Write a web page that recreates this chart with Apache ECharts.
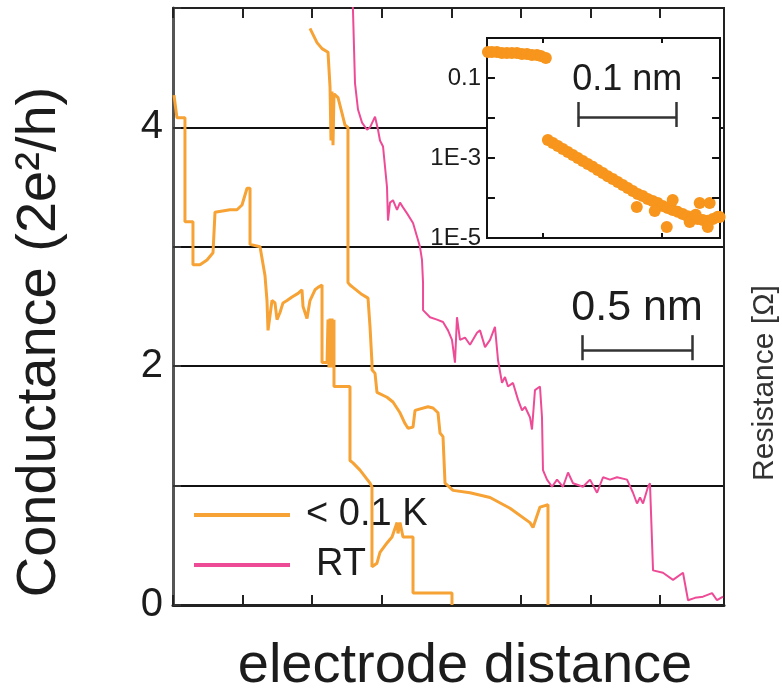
<!DOCTYPE html>
<html>
<head>
<meta charset="utf-8">
<title>Conductance vs electrode distance</title>
<script src="https://cdn.jsdelivr.net/npm/echarts@6/dist/echarts.min.js"></script>
<style>
  html, body { margin: 0; padding: 0; background: #fff; }
  #chart { width: 782px; height: 697px; }
</style>
</head>
<body>
<div id="chart"></div>
<script>
// ---- data -------------------------------------------------------------
// Conductance traces (x: electrode distance in tick units, y: G in 2e^2/h)
const coldTraceA = [
  [0.014,4.27],[0.057,4.08],[0.172,4.08],[0.172,3.21],[0.287,3.21],[0.287,2.85],
  [0.388,2.85],[0.489,2.89],[0.575,2.95],[0.604,3.29],[0.819,3.31],[0.920,3.31],
  [0.992,3.35],[1.064,3.49],[1.107,3.49],[1.107,3.02],[1.251,3.00],[1.322,2.76],
  [1.351,2.55],[1.366,2.30],[1.394,2.30],[1.423,2.55],[1.466,2.53],[1.495,2.39],
  [1.538,2.45],[1.581,2.53],[1.639,2.55],[1.711,2.58],[1.797,2.61],[1.854,2.64],
  [1.869,2.50],[1.926,2.40],[1.969,2.55],[2.041,2.64],[2.084,2.66],[2.142,2.68],
  [2.142,2.03],[2.214,2.03],[2.228,2.39],[2.242,1.99],[2.257,2.40],[2.271,1.99],
  [2.286,2.40],[2.300,1.99],[2.314,2.39],[2.314,1.83],[2.544,1.83],[2.544,1.21],
  [2.587,1.19],[2.688,1.13],[2.832,1.02],[2.860,0.99],[2.860,0.32],[2.932,0.35],
  [2.975,0.44],[3.076,0.52],[3.148,0.57],[3.220,0.69],[3.234,0.60],[3.263,0.69],
  [3.306,0.57],[3.450,0.57],[3.450,0.10],[4.010,0.10],[4.010,0.00]
];
const coldTraceB = [
  [1.969,4.83],[2.070,4.71],[2.142,4.66],[2.228,4.63],[2.257,4.34],[2.271,3.89],
  [2.286,4.30],[2.300,3.85],[2.314,4.28],[2.372,4.25],[2.429,4.12],[2.472,4.02],
  [2.515,4.00],[2.515,2.70],[2.544,2.68],[2.587,2.66],[2.717,2.60],[2.803,2.57],
  [2.832,2.33],[2.860,2.03],[2.860,1.97],[2.904,1.94],[2.932,1.78],[3.076,1.74],
  [3.162,1.70],[3.263,1.61],[3.335,1.52],[3.378,1.48],[3.450,1.49],[3.479,1.63],
  [3.665,1.66],[3.737,1.65],[3.809,1.61],[3.838,1.44],[3.881,1.41],[3.910,1.02],
  [4.025,0.96],[4.269,0.94],[4.557,0.90],[4.844,0.81],[5.131,0.69],[5.175,0.65],
  [5.275,0.82],[5.390,0.84],[5.390,0.00]
];
const roomTempTrace = [
  [2.559,5.32],[2.587,4.98],[2.616,4.37],[2.659,4.15],[2.717,4.04],[2.789,3.98],
  [2.832,4.00],[2.904,4.09],[2.947,3.98],[2.975,3.89],[3.019,3.84],[3.076,3.50],
  [3.090,3.22],[3.119,3.37],[3.162,3.39],[3.220,3.31],[3.263,3.37],[3.306,3.33],
  [3.364,3.28],[3.450,3.20],[3.550,3.00],[3.579,2.89],[3.594,2.70],[3.594,2.47],
  [3.694,2.41],[3.795,2.39],[3.881,2.37],[3.953,2.30],[4.010,2.22],[4.053,2.03],
  [4.082,2.41],[4.125,2.22],[4.197,2.24],[4.269,2.18],[4.370,2.28],[4.413,2.30],
  [4.485,2.16],[4.557,2.22],[4.628,2.33],[4.672,2.05],[4.729,1.86],[4.772,1.91],
  [4.815,1.83],[4.887,1.86],[4.959,1.72],[5.017,1.63],[5.060,1.66],[5.132,1.57],
  [5.160,1.47],[5.203,1.80],[5.275,1.83],[5.304,1.57],[5.318,1.13],[5.376,1.05],
  [5.448,0.99],[5.520,1.05],[5.606,0.99],[5.678,1.11],[5.750,1.02],[5.893,0.99],
  [5.994,1.05],[6.095,0.94],[6.181,1.07],[6.281,1.05],[6.382,1.07],[6.526,1.05],
  [6.612,0.94],[6.670,0.85],[6.713,0.90],[6.756,0.85],[6.828,0.99],[6.856,1.02],
  [6.900,0.29],[7.043,0.27],[7.187,0.21],[7.331,0.27],[7.359,0.18],[7.403,0.04],
  [7.503,0.06],[7.618,0.07],[7.748,0.10],[7.820,0.04],[7.906,0.07]
];
// Inset: resistance (Ohm, log scale) vs distance (inset tick units)
const insetPlateau = [
  [0.538,0.447],[0.571,0.447],[0.613,0.447],[0.655,0.422],[0.697,0.422],
  [0.739,0.422],[0.782,0.422],[0.824,0.398],[0.866,0.398],[0.908,0.376],
  [0.950,0.376],[0.983,0.355],[1.025,0.316]
];
const insetDecay = [
  [1.042,2.82e-3],[1.084,2.37e-3],[1.126,2.0e-3],[1.168,1.68e-3],[1.210,1.41e-3],
  [1.252,1.19e-3],[1.294,1.0e-3],[1.336,8.4e-4],[1.378,7.1e-4],[1.420,6.0e-4],
  [1.462,5.0e-4],[1.504,4.2e-4],[1.546,3.5e-4],[1.588,3.0e-4],[1.630,2.5e-4],
  [1.672,2.1e-4],[1.714,1.78e-4],[1.756,1.5e-4],[1.798,1.26e-4],[1.840,1.12e-4],
  [1.882,9.4e-5],[1.924,8.4e-5],[1.966,7.5e-5],[2.008,6.3e-5],[2.050,5.6e-5],
  [2.092,5.0e-5],[2.134,4.5e-5],[2.176,4.0e-5],[2.218,3.5e-5],[2.261,3.2e-5],
  [2.303,3.0e-5],[2.345,2.8e-5],[2.387,2.7e-5],[2.429,3.0e-5],[2.471,3.4e-5]
];
const insetScatter = [
  [1.790,5.96e-5],[2.042,1.88e-5],[2.092,8.9e-5],[2.319,7.5e-5],[2.403,7.5e-5],
  [2.387,1.88e-5],[2.487,3.35e-5],[1.941,4.7e-5],[2.235,2.5e-5],[2.286,3.8e-5]
];
// Tick labels and tick positions
const mainYTickLabels = ['0', '', '2', '', '4', ''];
const insetYLabelExponents = [-1, -3, -5];
const insetYLabelTexts = ['0.1', '1E-3', '1E-5'];
const insetXTicks = [1, 2];
const insetYTicks = [1e-4, 1e-3, 1e-2, 1e-1];
const seriesNames = ['< 0.1 K', 'RT'];

// ---- annotation geometry ------------------------------------------------
const mainBar = { x1: 5.88, x2: 7.46, y: 2.136, capTop: 2.26, capBottom: 2.05, label: '0.5 nm', lx: 6.67, ly: 2.49 };
const insetBar = { x1: 1.294, x2: 2.126, y: 0.0106, capTop: 0.0251, capBottom: 0.00596, label: '0.1 nm', lx: 1.71, ly: 0.089 };
const insetRange = { xMin: 0.53, xMax: 2.49, yMin: 1e-5, yMax: 1 };
// inward tick extents on the inset frame
const insetTickSpan = { bottom: 1.33e-5, top: 0.75, right: 2.423, left: 0.597 };

const FONT = '"Liberation Sans", Arial, Helvetica, sans-serif';
const ORANGE = '#F6A234';
const PINK = '#EE4B97';
const DOT = '#F7951C';
const INK = '#1c1c1c';

function scaleBar(b, fontSize, z, extraLines) {
  return {
    markLine: {
      silent: true,
      animation: false,
      z: z,
      symbol: ['none', 'none'],
      label: { show: false },
      lineStyle: { color: '#333', width: 2.5, type: 'solid' },
      emphasis: { disabled: true },
      data: [
        [{ coord: [b.x1, b.y] }, { coord: [b.x2, b.y] }],
        [{ coord: [b.x1, b.capTop] }, { coord: [b.x1, b.capBottom] }],
        [{ coord: [b.x2, b.capTop] }, { coord: [b.x2, b.capBottom] }]
      ].concat(extraLines || [])
    },
    markPoint: {
      silent: true,
      animation: false,
      z: z,
      symbol: 'circle',
      symbolSize: 1,
      itemStyle: { color: 'rgba(0,0,0,0)' },
      label: { show: true, position: 'inside', formatter: b.label, fontSize: fontSize, color: INK, fontFamily: FONT },
      data: [{ coord: [b.lx, b.ly] }]
    }
  };
}

// inset frame ticks on all four edges
const tickStyle = { color: '#111', width: 2 };
const insetTickLines = [];
insetXTicks.forEach(t => {
  insetTickLines.push([{ coord: [t, insetRange.yMin], lineStyle: tickStyle }, { coord: [t, insetTickSpan.bottom] }]);
  insetTickLines.push([{ coord: [t, insetRange.yMax], lineStyle: tickStyle }, { coord: [t, insetTickSpan.top] }]);
});
insetYTicks.forEach(v => {
  insetTickLines.push([{ coord: [insetRange.xMax, v], lineStyle: tickStyle }, { coord: [insetTickSpan.right, v] }]);
  insetTickLines.push([{ coord: [insetRange.xMin, v], lineStyle: tickStyle }, { coord: [insetTickSpan.left, v] }]);
});

const chart = echarts.init(document.getElementById('chart'), null, { renderer: 'canvas' });

const option = {
  animation: false,
  backgroundColor: '#fff',
  textStyle: { fontFamily: FONT },
  grid: [
    { left: 173, top: 8, width: 551, height: 597, show: true, borderColor: '#222', borderWidth: 2, backgroundColor: 'transparent', z: 0 },
    { left: 487, top: 38, width: 233, height: 200, show: true, borderColor: '#111', borderWidth: 2, backgroundColor: '#fff', z: 10 }
  ],
  xAxis: [
    { gridIndex: 0, type: 'value', position: 'bottom', min: 0, max: 7.92, interval: 1,
      axisLine: { show: true, onZero: false, lineStyle: { color: '#222', width: 3 } },
      axisTick: { show: true, inside: true, length: 10, lineStyle: { color: '#222', width: 2 } },
      axisLabel: { show: false }, splitLine: { show: false } },
    { gridIndex: 0, type: 'value', position: 'top', min: 0, max: 7.92, interval: 1,
      axisLine: { show: true, onZero: false, lineStyle: { color: '#222', width: 2 } },
      axisTick: { show: true, inside: true, length: 10, lineStyle: { color: '#222', width: 2 } },
      axisLabel: { show: false }, splitLine: { show: false } },
    { gridIndex: 1, type: 'value', min: insetRange.xMin, max: insetRange.xMax, z: 11,
      axisLine: { show: false, onZero: false },
      axisTick: { show: false }, axisLabel: { show: false }, splitLine: { show: false } }
  ],
  yAxis: [
    { gridIndex: 0, type: 'value', position: 'left', min: 0, max: 5, interval: 1,
      axisLine: { show: true, onZero: false, lineStyle: { color: '#555', width: 3 } },
      axisTick: { show: true, inside: true, length: 8, lineStyle: { color: '#333', width: 2 } },
      axisLabel: { show: true, margin: 10, fontSize: 40, color: INK, fontFamily: FONT,
        formatter: v => mainYTickLabels[Math.round(v)] || '' },
      splitLine: { show: true, lineStyle: { color: '#111', width: 2 } } },
    { gridIndex: 0, type: 'value', position: 'right', min: 0, max: 5, interval: 1,
      axisLine: { show: true, onZero: false, lineStyle: { color: '#222', width: 2 } },
      axisTick: { show: false }, axisLabel: { show: false }, splitLine: { show: false } },
    { gridIndex: 1, type: 'log', logBase: 10, min: insetRange.yMin, max: insetRange.yMax, z: 11,
      axisLine: { show: false, onZero: false },
      axisTick: { show: false },
      axisLabel: { show: true, margin: 6, fontSize: 24, color: INK, fontFamily: FONT,
        formatter: v => {
          const e = Math.round(Math.log10(v));
          const i = insetYLabelExponents.indexOf(e);
          return i >= 0 ? insetYLabelTexts[i] : '';
        } },
      splitLine: { show: false } }
  ],
  legend: {
    orient: 'vertical', left: 189, top: 489, itemWidth: 96, itemHeight: 4, itemGap: 8,
    icon: 'rect', selectedMode: false,
    textStyle: { fontSize: 38, color: INK, fontFamily: FONT, lineHeight: 42, padding: [0, 0, 0, 11] },
    data: [
      { name: seriesNames[0] },
      { name: seriesNames[1], textStyle: { padding: [0, 0, 0, 21] } }
    ]
  },
  series: [
    { name: seriesNames[0], type: 'line', xAxisIndex: 0, yAxisIndex: 0, data: coldTraceA,
      symbol: 'none', lineStyle: { color: ORANGE, width: 3 }, itemStyle: { color: ORANGE }, z: 3 },
    { name: seriesNames[0], type: 'line', xAxisIndex: 0, yAxisIndex: 0, data: coldTraceB,
      symbol: 'none', lineStyle: { color: ORANGE, width: 3 }, itemStyle: { color: ORANGE }, z: 3 },
    Object.assign({ name: seriesNames[1], type: 'line', xAxisIndex: 0, yAxisIndex: 0, data: roomTempTrace,
      symbol: 'none', lineStyle: { color: PINK, width: 2 }, itemStyle: { color: PINK }, z: 4 },
      scaleBar(mainBar, 43, 5)),
    Object.assign({ name: 'inset', type: 'scatter', xAxisIndex: 2, yAxisIndex: 2,
      data: insetPlateau.concat(insetDecay, insetScatter),
      symbolSize: 12, itemStyle: { color: DOT, opacity: 1 }, z: 12 },
      scaleBar(insetBar, 36, 13, insetTickLines))
  ],
  graphic: [
    { type: 'text', x: 40, y: 342, rotation: Math.PI / 2, z: 20,
      style: { text: 'Conductance (2e²/h)', fontSize: 56, fontFamily: FONT, fill: INK, align: 'center', verticalAlign: 'middle' } },
    { type: 'text', x: 465, y: 667, z: 20,
      style: { text: 'electrode distance', fontSize: 56, fontFamily: FONT, fill: INK, align: 'center', verticalAlign: 'middle' } },
    { type: 'text', x: 765, y: 383, rotation: Math.PI / 2, z: 20,
      style: { text: 'Resistance [Ω]', fontSize: 30, fontFamily: FONT, fill: '#333', align: 'center', verticalAlign: 'middle' } }
  ]
};

chart.setOption(option);
</script>
</body>
</html>
